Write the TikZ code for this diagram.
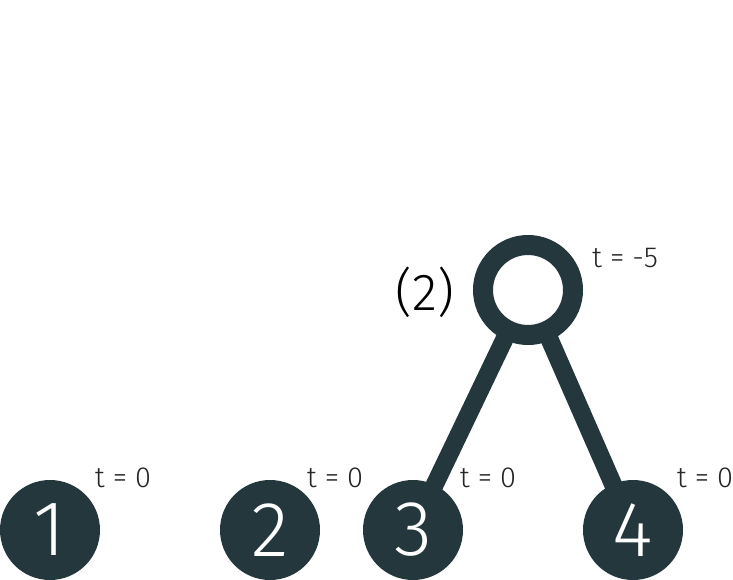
\documentclass[tikz,border=0pt]{standalone}
\usepackage{fontspec}
\setmainfont{Fira Sans Light}
\usetikzlibrary{backgrounds}
\definecolor{slate}{HTML}{24373C}
\tikzset{
  leaf/.style={circle, fill=slate, minimum size=100pt, inner sep=0pt, text=white, font=\fontsize{78}{78}\selectfont},
  root/.style={circle, draw=slate, line width=20pt, fill=white, minimum size=90pt, inner sep=0pt},
  tlabel/.style={text=black!85, inner sep=0pt, font=\fontsize{29}{29}\selectfont},
  branch/.style={draw=slate, line width=18pt}
}
\begin{document}
\begin{tikzpicture}[x=1pt,y=-1pt]
  \useasboundingbox (0,0) rectangle (733,580);

  % leaves
  \node[leaf] (n1) at (50,530) {1};
  \node[leaf] (n2) at (270,530) {2};
  \node[leaf] (n3) at (413,530) {3};
  \node[leaf] (n4) at (633,530) {4};

  % merged node
  \node[root] (m2) at (528,290) {};
  \node[inner sep=0pt, font=\fontsize{52}{52}\selectfont] (lab2) at (425,292) {(2)};

  % times
  \node[tlabel] (t1) at (123,478) {t = 0};
  \node[tlabel] (t2) at (335,478) {t = 0};
  \node[tlabel] (t3) at (488,478) {t = 0};
  \node[tlabel] (t4) at (705,478) {t = 0};
  \node[tlabel] (t5) at (625,258) {t = -5};

  \begin{pgfonlayer}{background}
    \draw[branch] (m2.center) -- (n3.center);
    \draw[branch] (m2.center) -- (n4.center);
  \end{pgfonlayer}
\end{tikzpicture}
\end{document}
